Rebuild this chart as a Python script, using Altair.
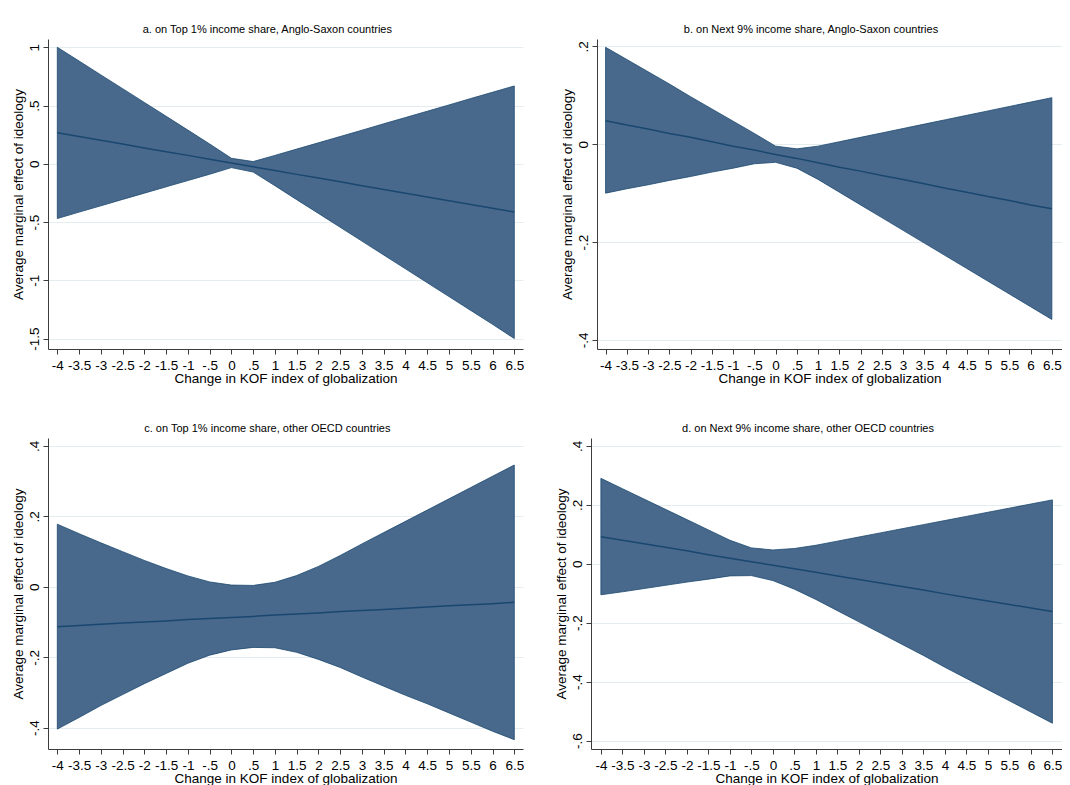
import altair as alt
import pandas as pd

FONT = "Liberation Sans"
FILL = "#48698c"
NAVY = "#1a476f"
GRID = "#e4ecef"
AXC = "#3c3c3c"

kof = [-4, -3.5, -3, -2.5, -2, -1.5, -1, -0.5, 0, 0.5, 1, 1.5, 2, 2.5, 3, 3.5, 4, 4.5, 5, 5.5, 6, 6.5]

# a. Top 1%, Anglo-Saxon
a_est = [0.266, 0.234, 0.201, 0.169, 0.136, 0.104, 0.072, 0.039, 0.007, -0.026, -0.058,
         -0.091, -0.123, -0.155, -0.188, -0.220, -0.253, -0.285, -0.317, -0.350, -0.382, -0.414]
a_hi = [1.000, 0.882, 0.763, 0.645, 0.526, 0.408, 0.289, 0.170, 0.047, 0.019, 0.072,
        0.126, 0.180, 0.234, 0.288, 0.343, 0.397, 0.451, 0.505, 0.560, 0.614, 0.668]
a_lo = [-0.470, -0.415, -0.361, -0.306, -0.252, -0.198, -0.144, -0.090, -0.033, -0.071, -0.188,
        -0.308, -0.426, -0.545, -0.664, -0.783, -0.902, -1.021, -1.140, -1.259, -1.378, -1.500]

# b. Next 9%, Anglo-Saxon
b_est = [0.048, 0.039, 0.031, 0.022, 0.014, 0.005, -0.004, -0.012, -0.021, -0.029, -0.038,
         -0.047, -0.055, -0.064, -0.072, -0.081, -0.090, -0.098, -0.107, -0.115, -0.124, -0.132]
b_hi = [0.198, 0.173, 0.148, 0.123, 0.097, 0.072, 0.047, 0.022, -0.004, -0.0095, -0.004,
        0.005, 0.014, 0.023, 0.032, 0.041, 0.050, 0.059, 0.068, 0.077, 0.086, 0.095]
b_lo = [-0.100, -0.091, -0.083, -0.074, -0.066, -0.057, -0.049, -0.040, -0.037, -0.049, -0.072,
        -0.098, -0.124, -0.150, -0.176, -0.202, -0.228, -0.254, -0.280, -0.306, -0.332, -0.358]

# c. Top 1%, other OECD
c_est = [-0.113, -0.110, -0.106, -0.103, -0.100, -0.097, -0.093, -0.090, -0.087, -0.084, -0.080,
         -0.077, -0.074, -0.070, -0.067, -0.064, -0.061, -0.057, -0.054, -0.051, -0.048, -0.044]
c_hi = [0.178, 0.151, 0.125, 0.100, 0.075, 0.052, 0.031, 0.014, 0.005, 0.004, 0.013,
        0.032, 0.058, 0.089, 0.122, 0.154, 0.186, 0.218, 0.250, 0.282, 0.314, 0.346]
c_lo = [-0.404, -0.371, -0.337, -0.306, -0.275, -0.246, -0.217, -0.194, -0.179, -0.172, -0.173,
        -0.186, -0.206, -0.229, -0.256, -0.282, -0.308, -0.332, -0.358, -0.384, -0.410, -0.434]

# d. Next 9%, other OECD
d_est = [0.092, 0.080, 0.068, 0.056, 0.044, 0.031, 0.019, 0.007, -0.005, -0.017, -0.029,
         -0.041, -0.053, -0.065, -0.077, -0.089, -0.102, -0.114, -0.126, -0.138, -0.150, -0.162]
d_hi = [0.290, 0.255, 0.220, 0.185, 0.150, 0.115, 0.080, 0.054, 0.047, 0.052, 0.063,
        0.077, 0.091, 0.105, 0.119, 0.133, 0.147, 0.161, 0.175, 0.189, 0.203, 0.217]
d_lo = [-0.105, -0.095, -0.084, -0.073, -0.062, -0.052, -0.041, -0.040, -0.057, -0.086, -0.121,
        -0.159, -0.197, -0.235, -0.273, -0.311, -0.351, -0.389, -0.427, -0.465, -0.503, -0.541]

titles = [
    "a. on Top 1% income share, Anglo-Saxon countries",
    "b. on Next 9% income share, Anglo-Saxon countries",
    "c. on Top 1% income share, other OECD countries",
    "d. on Next 9% income share, other OECD countries",
]
a_yticks = [1, 0.5, 0, -0.5, -1, -1.5]
b_yticks = [0.2, 0, -0.2, -0.4]
c_yticks = [0.4, 0.2, 0, -0.2, -0.4]
d_yticks = [0.4, 0.2, 0, -0.2, -0.4, -0.6]

XTITLE = "Change in KOF index of globalization"
YTITLE = "Average marginal effect of ideology"

STATA_FMT = ("datum.value == 0 ? '0' : (abs(datum.value) < 1 ? "
             "(datum.value < 0 ? '-' : '') + substring(toString(abs(datum.value)), 1) "
             ": toString(datum.value))")


def panel(title, est, lo, hi, xdom, ydom, yticks, w, h):
    df = pd.DataFrame({"kof": kof, "est": est, "lo": lo, "hi": hi})
    xs = alt.Scale(domain=xdom, nice=False, zero=False)
    ys = alt.Scale(domain=ydom, nice=False, zero=False)
    xaxis = alt.Axis(values=kof, title=XTITLE, grid=False, labelExpr=STATA_FMT,
                     labelFlush=False, labelOverlap=False, labelFont=FONT, labelFontSize=13.5,
                     labelColor="black", labelPadding=4, titleFont=FONT, titleFontSize=13.5,
                     titleFontWeight="normal", titleColor="black", titlePadding=0,
                     tickSize=5, tickColor=AXC, domainColor=AXC)
    yaxis = alt.Axis(values=yticks, title=YTITLE, grid=True, gridColor=GRID, gridWidth=1,
                     labelExpr=STATA_FMT, labelAngle=270, labelAlign="center",
                     labelBaseline="bottom", labelFlush=False, labelOverlap=False,
                     labelFont=FONT, labelFontSize=13.5, labelColor="black", labelPadding=2,
                     titleFont=FONT, titleFontSize=13.5, titleFontWeight="normal",
                     titleColor="black", titlePadding=2,
                     tickSize=5, tickColor=AXC, domainColor=AXC)
    base = alt.Chart(df)
    band = base.mark_area(color=FILL, stroke=NAVY, strokeWidth=0.8, opacity=1).encode(
        x=alt.X("kof:Q", scale=xs, axis=xaxis),
        y=alt.Y("lo:Q", scale=ys, axis=yaxis),
        y2="hi:Q",
    )
    line = base.mark_line(color=NAVY, strokeWidth=1.5).encode(
        x=alt.X("kof:Q", scale=xs, axis=xaxis),
        y=alt.Y("est:Q", scale=ys, axis=yaxis),
    )
    return alt.layer(band, line).properties(
        width=w, height=h,
        title=alt.TitleParams(text=title, font=FONT, fontSize=11, fontWeight="normal",
                              color="black", anchor="middle", frame="bounds", offset=4),
    )


pa = panel(titles[0], a_est, a_lo, a_hi, [-4.214, 6.70], [-1.590, 1.071], a_yticks, 475, 310)
pb = panel(titles[1], b_est, b_lo, b_hi, [-4.202, 6.739], [-0.4184, 0.2149], b_yticks, 465, 310)
pc = panel(titles[2], c_est, c_lo, c_hi, [-4.214, 6.70], [-0.4605, 0.4227], c_yticks, 475, 311)
pd_ = panel(titles[3], d_est, d_lo, d_hi, [-4.230, 6.723], [-0.6285, 0.427], d_yticks, 471, 311)

row1 = alt.hconcat(pa, pb, spacing=36)
row2 = alt.hconcat(pc, pd_, spacing=29)

chart = alt.vconcat(row1, row2, spacing=38).properties(
    padding={"left": 3, "top": 16, "right": 0, "bottom": 0},
    background="white",
).configure_view(stroke=None)

chart.save("out.html", embed_options={"renderer": "svg", "actions": False})
